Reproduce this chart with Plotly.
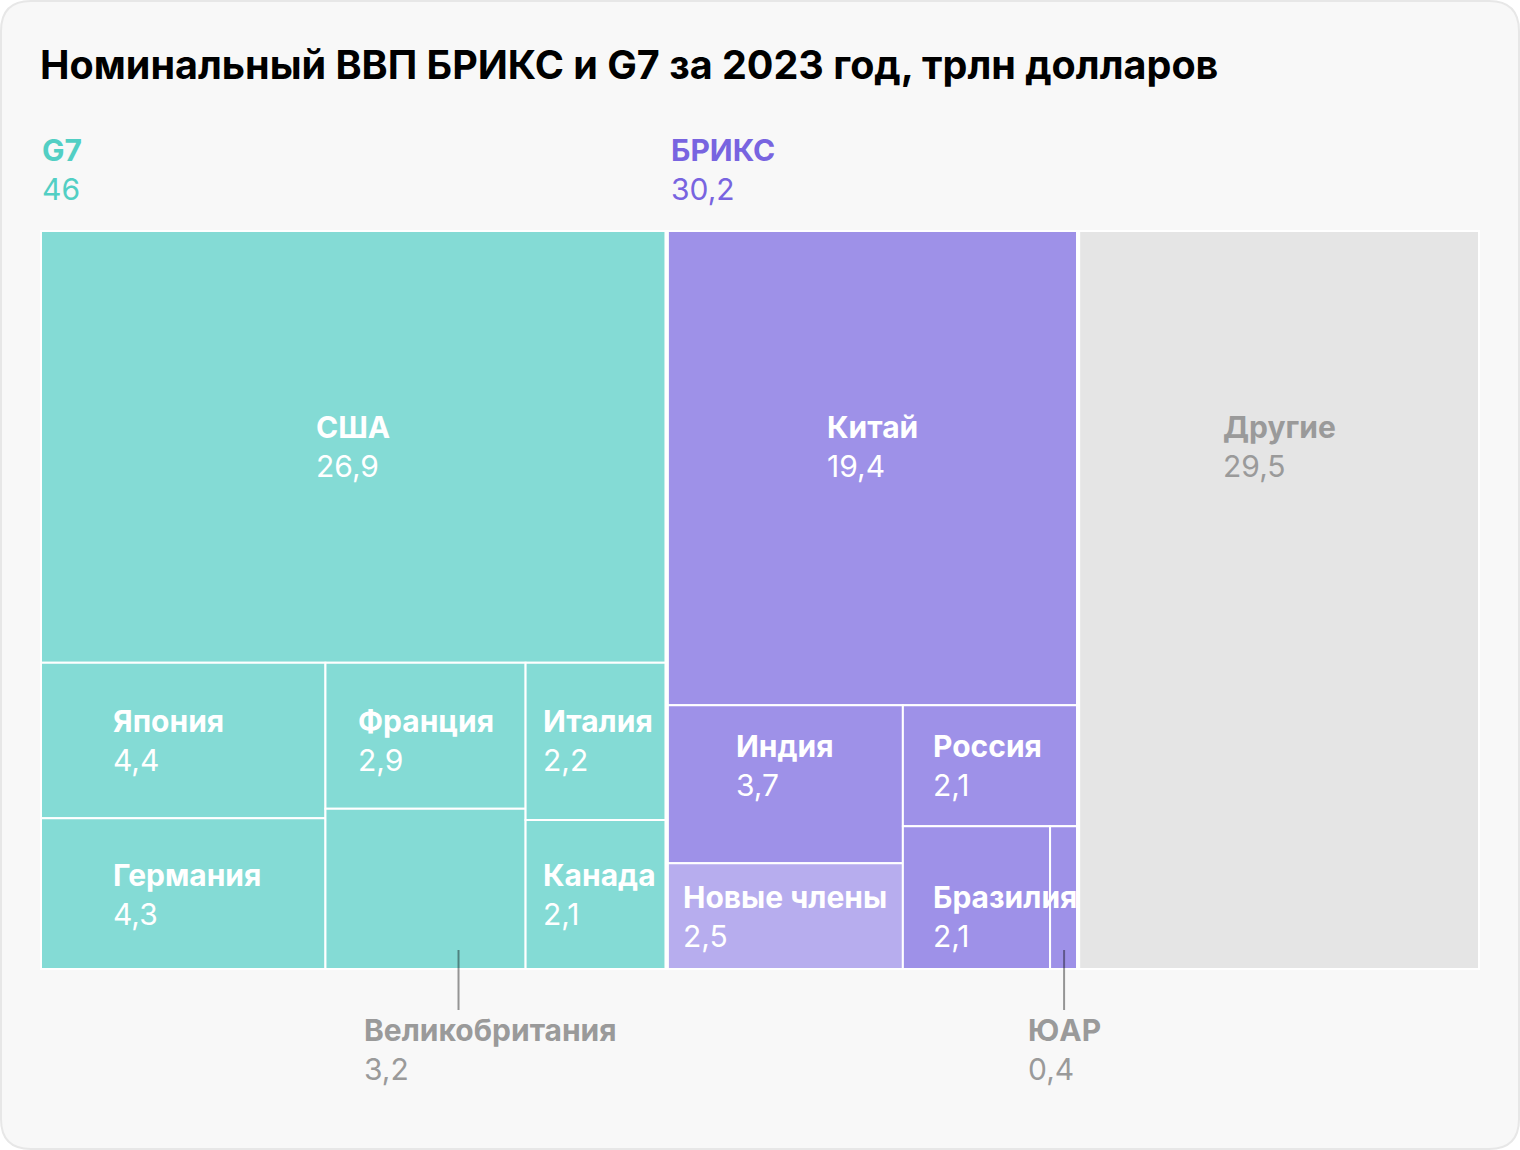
import plotly.graph_objects as go

# ---------------- data ----------------
countries = ["США", "Япония", "Германия", "Франция", "Великобритания", "Италия", "Канада",
             "Китай", "Индия", "Новые члены", "Россия", "Бразилия", "ЮАР", "Другие"]
gdp = [26.9, 4.4, 4.3, 2.9, 3.2, 2.2, 2.1,
       19.4, 3.7, 2.5, 2.1, 2.1, 0.4, 29.5]
group_names = ["G7", "БРИКС", "Другие"]
g7_members = ["США", "Япония", "Германия", "Франция", "Великобритания", "Италия", "Канада"]
brics_members = ["Китай", "Индия", "Новые члены", "Россия", "Бразилия", "ЮАР"]
title_text = "Номинальный ВВП БРИКС и G7 за 2023 год, трлн долларов"

# nested tiling ("h" = split into columns, "v" = stacked rows)
G7_TREE = ("v", ["США", ("h", [("v", ["Япония", "Германия"]),
                                ("v", ["Франция", "Великобритания"]),
                                ("v", ["Италия", "Канада"])])])
BRICS_TREE = ("v", ["Китай", ("h", [("v", ["Индия", "Новые члены"]),
                                     ("v", ["Россия", ("h", ["Бразилия", "ЮАР"])])])])
TREE = ("h", [G7_TREE, BRICS_TREE, "Другие"])

# ---------------- styles ----------------
FONT = "Inter"
FS = 30
colors = {"G7": "#84dbd5", "БРИКС": "#9e91e8", "new": "#b7adee", "Другие": "#e5e5e5"}
head_colors = {"G7": "#52cfc4", "БРИКС": "#7864e0"}
outside = {"Великобритания", "ЮАР"}
half_w = {"Япония": 72, "Германия": 72, "Италия": 55, "Канада": 55,
          "Россия": 59, "Бразилия": 59}
x_anchor_of = {"Бразилия": "Россия"}
y_anchor_of = {"Китай": "США", "Другие": "США", "Франция": "Япония", "Италия": "Япония",
               "Канада": "Германия", "Индия": "Россия", "Бразилия": "Новые члены"}

val = dict(zip(countries, gdp))


def fmt(v):
    s = f"{v:.1f}".replace(".", ",")
    return s[:-2] if s.endswith(",0") else s


def node_value(n):
    if isinstance(n, str):
        return val[n]
    return sum(node_value(c) for c in n[1])


rects = {}


def tile(n, x0, y0, x1, y1):
    if isinstance(n, str):
        rects[n] = (x0, y0, x1, y1)
        return
    orient, kids = n
    tot = node_value(n)
    pos = x0 if orient == "h" else y0
    for k in kids:
        f = node_value(k) / tot
        if orient == "h":
            w = (x1 - x0) * f
            tile(k, pos, y0, pos + w, y1)
            pos += w
        else:
            h = (y1 - y0) * f
            tile(k, x0, pos, x1, pos + h)
            pos += h


tile(TREE, 0, 0, 1, 1)

group_rects = {}
tot_all = node_value(TREE)
pos = 0
for g, n in zip(group_names, TREE[1]):
    w = node_value(n) / tot_all
    group_rects[g] = (pos, 0, pos + w, 1)
    pos += w

group_of = {c: ("G7" if c in g7_members else "БРИКС" if c in brics_members else "Другие")
            for c in countries}

fig = go.Figure()
fig.add_trace(go.Scatter(x=[0, 1], y=[0, 1], mode="markers", marker=dict(opacity=0),
                         hoverinfo="skip", showlegend=False))

# card background
L, R, T, B = 40, 1480, 230, 970
W, H = 1520, 1150


def px(x):
    return (x - L) / (R - L)


def py(y):
    return (B - y) / (B - T)


r = 30
cx0, cy0, cx1, cy1 = 1, 1, 1519, 1149
path = (f"M {px(cx0 + r)},{py(cy0)} L {px(cx1 - r)},{py(cy0)} "
        f"Q {px(cx1)},{py(cy0)} {px(cx1)},{py(cy0 + r)} "
        f"L {px(cx1)},{py(cy1 - r)} Q {px(cx1)},{py(cy1)} {px(cx1 - r)},{py(cy1)} "
        f"L {px(cx0 + r)},{py(cy1)} Q {px(cx0)},{py(cy1)} {px(cx0)},{py(cy1 - r)} "
        f"L {px(cx0)},{py(cy0 + r)} Q {px(cx0)},{py(cy0)} {px(cx0 + r)},{py(cy0)} Z")
shapes = [dict(type="path", xref="paper", yref="paper", path=path,
               fillcolor="#f8f8f8", line=dict(color="#e7e7e7", width=2), layer="below")]

for c in countries:
    x0, y0, x1, y1 = rects[c]
    g = group_of[c]
    col = colors["new"] if c == "Новые члены" else colors[g]
    shapes.append(dict(type="rect", xref="x", yref="y", x0=x0, x1=x1, y0=y0, y1=y1,
                       fillcolor=col, line=dict(color="white", width=2), layer="above"))
for g in group_names:
    x0, y0, x1, y1 = group_rects[g]
    shapes.append(dict(type="rect", xref="x", yref="y", x0=x0, x1=x1, y0=y0, y1=y1,
                       fillcolor="rgba(0,0,0,0)", line=dict(color="white", width=4),
                       layer="above"))

annotations = []
for c in countries:
    x0, y0, x1, y1 = rects[c]
    text = f"<b>{c}</b><br>{fmt(val[c])}"
    tcol = "#9a9a9a" if c == "Другие" else "white"
    if c in outside:
        cx = (x0 + x1) / 2
        lx = 33 if c == "Великобритания" else 0
        shapes.append(dict(type="line", xref="x", yref="paper", xsizemode="pixel",
                           ysizemode="pixel", xanchor=cx, yanchor=0,
                           x0=lx, x1=lx, y0=20, y1=-40,
                           line=dict(color="rgba(0,0,0,0.4)", width=2), layer="above"))
        ann = dict(x=cx, y=1, xref="x", yref="y", text=text, yanchor="top", yshift=-40,
                   align="left", showarrow=False,
                   font=dict(family=FONT, size=FS, color="#9a9a9a"))
        if c == "Великобритания":
            ann.update(xanchor="left", xshift=-64)
        else:
            ann.update(xanchor="center")
        annotations.append(ann)
        continue
    ax_c = x_anchor_of.get(c, c)
    ay_c = y_anchor_of.get(c, c)
    ax = (rects[ax_c][0] + rects[ax_c][2]) / 2
    ay = (rects[ay_c][1] + rects[ay_c][3]) / 2
    ann = dict(x=ax, y=ay, xref="x", yref="y", text=text, yanchor="middle",
               align="left", showarrow=False, font=dict(family=FONT, size=FS, color=tcol))
    if c in half_w:
        ann.update(xanchor="left", xshift=-half_w[c])
    else:
        ann.update(xanchor="center")
    annotations.append(ann)

# group headers
for g, members in (("G7", g7_members), ("БРИКС", brics_members)):
    x0 = group_rects[g][0]
    tot = sum(val[c] for c in members)
    annotations.append(dict(x=x0, y=0, xref="x", yref="y",
                            text=f"<b>{g}</b><br>{fmt(tot)}",
                            xanchor="left", yanchor="bottom", yshift=21,
                            xshift=0 if g == "G7" else 2,
                            align="left", showarrow=False,
                            font=dict(family=FONT, size=FS, color=head_colors[g])))

fig.update_layout(
    width=W, height=H,
    margin=dict(l=L, r=W - R, t=T, b=H - B, pad=0),
    paper_bgcolor="white", plot_bgcolor="rgba(0,0,0,0)",
    title=dict(text=title_text, x=L / W, xanchor="left", y=1 - 65 / H, yanchor="middle",
               font=dict(family=FONT, size=39.5, color="black", weight=700)),
    xaxis=dict(range=[0, 1], visible=False, fixedrange=True),
    yaxis=dict(range=[1, 0], visible=False, fixedrange=True),
    shapes=shapes, annotations=annotations, showlegend=False,
)

fig.write_html("out.html")
